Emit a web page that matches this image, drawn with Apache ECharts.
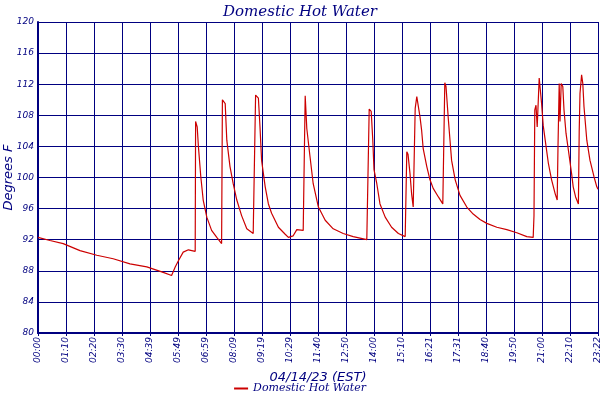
<!DOCTYPE html>
<html>
<head>
<meta charset="utf-8">
<title>Domestic Hot Water</title>
<script src="https://cdn.jsdelivr.net/npm/echarts@6.0.0/dist/echarts.min.js"></script>
<style>
    html, body { margin: 0; padding: 0; background: #ffffff; }
    #chart { width: 600px; height: 400px; }
</style>
</head>
<body>
<div id="chart"></div>
<script>
// minutes since midnight
const minutes = [
    0, 30, 63, 105, 147, 188, 230, 272, 313, 334, 343, 351, 363, 376, 393,
    394, 398, 401, 407, 413, 422, 434, 447, 459,
    461, 468, 472, 480, 488, 497, 509, 522, 538, 543,
    544, 551, 555, 559, 568, 576, 584, 601, 618, 626, 638, 647, 663,
    668, 672, 680, 688, 701, 718, 738, 763, 788, 822, 826,
    828, 833, 837, 840, 847, 855, 868, 884, 901, 918, 920,
    922, 925, 930, 934, 938, 941,
    943, 947, 951, 955, 959, 963, 972, 980, 988, 1001, 1012, 1015,
    1017, 1020, 1026, 1030, 1034, 1043, 1055, 1072, 1088, 1105, 1122, 1147, 1172, 1197, 1222, 1238,
    1240, 1242, 1245, 1248, 1251, 1253, 1257, 1259, 1263, 1268, 1276, 1284, 1293, 1298,
    1300, 1303, 1305, 1308, 1312, 1315, 1320, 1326, 1334, 1338, 1344, 1351,
    1353, 1355, 1359, 1362, 1365, 1372, 1380, 1390, 1397, 1400
];

const temperatures = [
    92.3, 91.9, 91.5, 90.6, 90.0, 89.55, 88.9, 88.5, 87.8, 87.4, 88.5, 89.3, 90.4, 90.7, 90.5,
    107.2, 106.5, 104.0, 100.1, 97.1, 94.9, 93.2, 92.3, 91.5,
    110.0, 109.5, 104.8, 101.4, 99.2, 97.1, 95.1, 93.4, 92.8, 92.6,
    110.6, 110.2, 106.5, 102.2, 98.8, 96.6, 95.4, 93.6, 92.7, 92.3, 92.5, 93.3, 93.2,
    110.5, 106.3, 102.7, 99.2, 96.2, 94.5, 93.4, 92.8, 92.4, 92.0, 92.0,
    108.8, 108.5, 104.8, 101.0, 99.2, 96.6, 94.9, 93.6, 92.8, 92.4, 92.2,
    103.3, 103.0, 100.5, 97.9, 96.2, 96.0,
    108.9, 110.4, 110.6, 107.8, 106.1, 103.7, 101.4, 99.7, 98.6, 97.5, 96.6, 96.4,
    112.2, 111.7, 107.4, 104.8, 102.2, 99.7, 97.7, 96.2, 95.3, 94.6, 94.1, 93.6, 93.3, 92.9, 92.4, 92.3,
    95.1, 108.7, 109.3, 106.5, 106.5, 112.8, 112.6, 109.5, 106.7, 104.8, 101.8, 99.7, 97.9, 97.1,
    104.0, 112.1, 107.2, 112.1, 111.7, 108.7, 105.7, 103.5, 100.5, 98.8, 97.5, 96.6,
    105.9, 110.8, 113.2, 112.1, 109.1, 104.8, 102.2, 100.1, 98.8, 98.5
];

const tickLabels = [
    "00:00", "01:10", "02:20", "03:30", "04:39", "05:49", "06:59", "08:09",
    "09:19", "10:29", "11:40", "12:50", "14:00", "15:10", "16:21", "17:31",
    "18:40", "19:50", "21:00", "22:10", "23:22"
];

const navy = "#000080";
const tickStep = 70;

let chartElmt = document.getElementById("chart");
let chart = echarts.init(chartElmt, null, { renderer: "canvas" });

chart.setOption({
    animation: false,
    title: {
        text: "Domestic Hot Water",
        left: "center",
        top: 0,
        textStyle: {
            color: navy,
            fontFamily: "DejaVu Serif",
            fontStyle: "italic",
            fontWeight: "normal",
            fontSize: 15,
        },
    },
    legend: {
        bottom: 1,
        left: "center",
        icon: "rect",
        itemWidth: 14,
        itemHeight: 2,
        itemGap: 4,
        textStyle: {
            color: navy,
            fontFamily: "DejaVu Serif",
            fontStyle: "italic",
            fontSize: 11,
        },
        data: ["Domestic Hot Water"],
    },
    grid: {
        left: 38,
        right: 2,
        top: 22,
        bottom: 67,
        containLabel: false,
        outerBoundsMode: "none",
    },
    xAxis: {
        type: "value",
        min: 0,
        max: 1400,
        interval: tickStep,
        name: "04/14/23 (EST)",
        nameLocation: "middle",
        nameGap: 38,
        nameMoveOverlap: false,
        nameTextStyle: {
            color: navy,
            fontFamily: "DejaVu Sans",
            fontStyle: "italic",
            fontSize: 13,
        },
        axisLine: { lineStyle: { color: navy, width: 2 } },
        axisTick: { show: true, length: 3, lineStyle: { color: navy } },
        axisLabel: {
            rotate: 90,
            color: navy,
            fontFamily: "DejaVu Sans",
            fontStyle: "italic",
            fontSize: 9,
            margin: 4,
            showMinLabel: true,
            showMaxLabel: true,
            formatter: (value) => tickLabels[Math.round(value / tickStep)],
        },
        splitLine: { show: true, lineStyle: { color: navy, width: 1 } },
    },
    yAxis: {
        type: "value",
        min: 80,
        max: 120,
        interval: 4,
        name: "Degrees F",
        nameLocation: "middle",
        nameGap: 23,
        nameMoveOverlap: false,
        nameTextStyle: {
            color: navy,
            fontFamily: "DejaVu Sans",
            fontStyle: "italic",
            fontSize: 13,
        },
        axisLine: { show: true, lineStyle: { color: navy, width: 2 } },
        axisTick: { show: false },
        axisLabel: {
            color: navy,
            fontFamily: "DejaVu Sans",
            fontStyle: "italic",
            fontSize: 9,
            margin: 4,
        },
        splitLine: { show: true, lineStyle: { color: navy, width: 1 } },
    },
    series: [
        {
            name: "Domestic Hot Water",
            type: "line",
            symbol: "none",
            color: "#cc0000",
            lineStyle: { width: 1.2, color: "#cc0000" },
            data: minutes.map((m, i) => [m, temperatures[i]]),
        },
    ],
});
</script>
</body>
</html>
